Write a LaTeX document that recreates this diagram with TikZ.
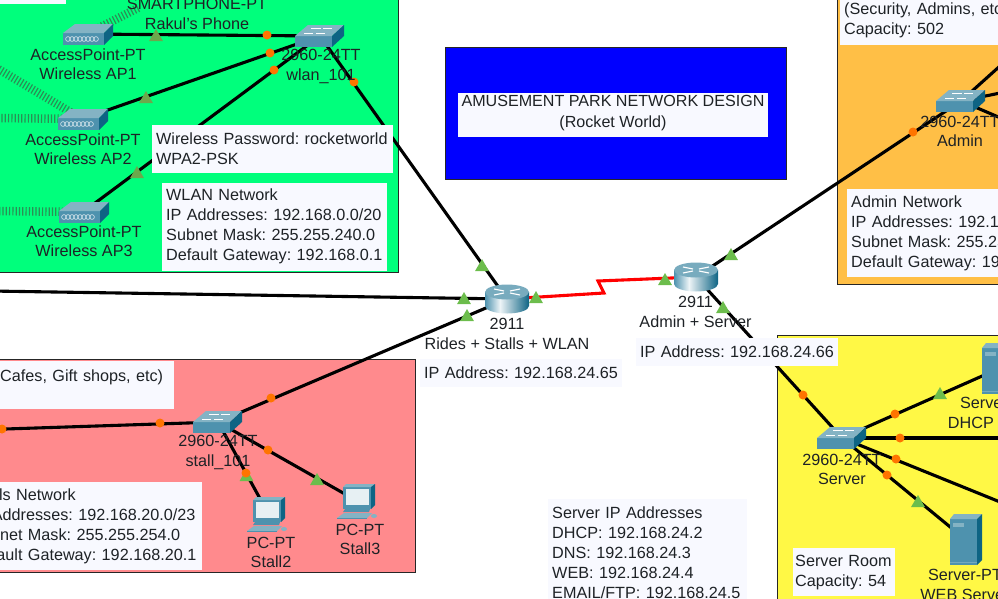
\documentclass[tikz,border=0pt]{standalone}
\usepackage{fontspec}
\setmainfont{Liberation Sans}
\usetikzlibrary{shapes.geometric}
\frenchspacing
\definecolor{wlanzone}{HTML}{00FF7C}
\definecolor{adminzone}{HTML}{FFBF46}
\definecolor{serverzone}{HTML}{FFF845}
\definecolor{stallzone}{HTML}{FF8A8D}
\definecolor{notefill}{HTML}{F8F9FF}
\definecolor{labelink}{HTML}{1E2226}
\definecolor{icontop}{HTML}{84B3C4}
\definecolor{iconfront}{HTML}{4E92AE}
\definecolor{iconside}{HTML}{0E6484}
\definecolor{upcolor}{HTML}{6CBD4C}
\definecolor{upwlan}{HTML}{6CA84C}
\definecolor{downcolor}{HTML}{FF7400}
\definecolor{wifigreen}{HTML}{2B8F55}
\pgfdeclarehorizontalshading{routerbody}{100bp}{color(0bp)=(iconfront); color(25bp)=(iconfront); color(42bp)=(white!90!iconfront); color(75bp)=(iconside); color(100bp)=(iconside)}
\tikzset{
  zone/.style={draw=black!85, line width=0.9pt},
  device/.style={inner sep=0pt, minimum size=0pt},
  devlabel/.style={align=center, text=labelink, inner sep=0pt, font=\fontsize{16.2}{19.3}\selectfont},
  note/.style={fill=notefill, text=labelink, anchor=north west, align=left, inner xsep=4pt, inner ysep=0pt, font=\fontsize{16.2}{20}\selectfont},
  link/.style={line width=3.1pt, black},
  wanlink/.style={line width=3.1pt, red, line join=miter},
  wifi/.style={line width=8.5pt, wifigreen, dash pattern=on 1.2pt off 2.1pt},
  uptri/.style={regular polygon, regular polygon sides=3, fill=#1, inner sep=0pt, minimum size=16pt, yshift=-2pt},
  uptri/.default=upcolor,
  downdot/.style={circle, fill=downcolor, inner sep=0pt, minimum size=9pt},
  switchicon/.pic={
    \fill [iconfront] (-25,0) rectangle (12,11);
    \fill [icontop] (-25,0) -- (-12,-11) -- (24,-11) -- (12,0) -- cycle;
    \fill [iconside] (12,0) -- (24,-11) -- (24,0) -- (12,11) -- cycle;
    \foreach \a/\b/\c in {-9/-8/1,3/-8/12,-16/-3/-7,-4/-3/5}
    \draw [white, line width=0.6pt] (\a,\b) -- (\c,\b);
  },
  routericon/.pic={
    \path [shading=routerbody] (-22,-7) -- (-22,7) arc (180:0:22 and 7.5) -- (22,-7) -- cycle;
    \fill [icontop!90!iconside] (0,-7) ellipse (22 and 7.5);
    \draw [white, line width=1.1pt] (-13,-10) -- (-3,-8) (13,-10) -- (3,-8) (-13,-4) -- (-3,-6) (13,-4) -- (3,-6);
  },
  apicon/.pic={
    \fill [iconfront] (-24,-1) rectangle (17,11);
    \fill [icontop] (-24,-1) -- (-12,-10) -- (26,-10) -- (17,-1) -- cycle;
    \fill [iconside] (17,-1) -- (26,-10) -- (26,2) -- (17,11) -- cycle;
    \foreach \a in {-19,-15,-11,-7,-3,1,5,9}
    \draw [white!80!iconfront, line width=0.6pt] (\a,5) circle (2.4);
  },
  servericon/.pic={
    \fill [iconfront] (-16,-21) rectangle (11,25);
    \fill [icontop] (-16,-21) -- (-12,-26) -- (16,-26) -- (11,-21) -- cycle;
    \fill [iconside] (11,-21) -- (16,-26) -- (16,20) -- (11,25) -- cycle;
    \fill [icontop] (-13,-17) rectangle (-2,-13);
    \fill [icontop!70!iconfront] (-16,22) rectangle (11,23);
  },
  pcicon/.pic={
    \fill [iconfront] (-16,-15) rectangle (12,7);
    \fill [icontop] (-16,-15) -- (-13,-18) -- (16,-18) -- (12,-15) -- cycle;
    \fill [iconside] (12,-15) -- (16,-18) -- (16,3) -- (12,7) -- cycle;
    \fill [white!80!icontop] (-13,-13) rectangle (9.5,3);
    \fill [iconfront] (-14,7) -- (11,7) -- (10,10) -- (-16,10) -- cycle;
    \fill [icontop] (-22,16) -- (-15,11) -- (13,11) -- (8,16) -- cycle;
    \fill [iconfront] (-22,16) rectangle (8,17);
    \fill [icontop] (15,14) ellipse (3 and 2);
  }
}
\begin{document}
\begin{tikzpicture}[x=1pt, y=-1pt, >=stealth]

  \clip (0,0) rectangle (998,598);

  % zones
  \draw [zone, fill=wlanzone] (-10,-10) rectangle (398,272);
  \draw [zone, fill=stallzone] (-10,359) rectangle (415,572);
  \draw [zone, fill=adminzone] (837,-10) rectangle (1010,284);
  \draw [zone, fill=serverzone] (777,335) rectangle (1010,610);
  \node [zone, fill=blue, anchor=north west, minimum width=341pt, minimum height=132pt, inner sep=0pt] (title-box) at (445,47) {};

  % devices
  \foreach \n/\x/\y in {ap1/87/34, ap2/82/119, ap3/83/212, sw-wlan/320/36,
    sw-stall/218/422, sw-admin/961/101, sw-server/842/438,
    rt-rides/507/299, rt-admin/696/277, srv-dhcp/998/369, srv-web/966/540,
    pc-stall2/269/515, pc-stall3/359/502}
  \node [device] (\n) at (\x,\y) {};

  % free ends
  \foreach \n/\x/\y in {sig-phone/140/7, sig-ap2/-5/67, sig-ap2b/-5/118, sig-ap3/-5/211,
    off-rides/-10/291, off-stall/-10/429.5, off-admin1/1010/57, off-admin2/1010/91,
    off-admin3/1010/122, off-server1/1010/438, off-server2/1010/506}
  \coordinate (\n) at (\x,\y);

  % wireless
  \foreach \a/\b in {ap1/sig-phone, ap2/sig-ap2, ap2/sig-ap2b, ap3/sig-ap3}
  \draw [wifi] (\a) -- (\b);

  % cables
  \foreach \a/\b in {ap1/sw-wlan, ap2/sw-wlan, ap3/sw-wlan, sw-wlan/rt-rides,
    off-rides/rt-rides, sw-stall/rt-rides, off-stall/sw-stall,
    sw-stall/pc-stall2, sw-stall/pc-stall3, rt-admin/sw-admin, rt-admin/sw-server,
    sw-admin/off-admin1, sw-admin/off-admin2, sw-admin/off-admin3,
    sw-server/srv-dhcp, sw-server/off-server1, sw-server/off-server2, sw-server/srv-web}
  \draw [link] (\a) -- (\b);

  \draw [wanlink] (rt-rides) -- (604,293) -- (598,281) -- (rt-admin);

  % status
  \foreach \x/\y [count=\i] in {156/35, 146/97, 137/172}
  \node [uptri=upwlan] (up-wlan-\i) at (\x,\y) {};

  \foreach \x/\y [count=\i] in {482/265, 464/298, 467/315, 536/297, 665/279, 731/254,
    723/307, 940/393, 918/501, 246.5/475, 317/479}
  \node [uptri] (up-\i) at (\x,\y) {};

  \foreach \x/\y [count=\i] in {267/35, 270/53, 274/70, 354/82, 271/398, 160/423, 2/429,
    246/473, 268/450, 913/132, 803/395, 895/414, 900/438, 896/459, 887/475}
  \node [downdot] (down-\i) at (\x,\y) {};

  % icons
  \foreach \n in {ap1,ap2,ap3}
  \pic at (\n) {apicon};
  \foreach \n in {sw-wlan,sw-stall,sw-admin,sw-server}
  \pic at (\n) {switchicon};
  \foreach \n in {rt-rides,rt-admin}
  \pic at (\n) {routericon};
  \foreach \n in {srv-dhcp,srv-web}
  \pic at (\n) {servericon};
  \foreach \n in {pc-stall2,pc-stall3}
  \pic at (\n) {pcicon};

  % labels
  \node [devlabel] (label-phone) at (197,14) {SMARTPHONE-PT\\Rakul's Phone};
  \node [devlabel] (label-ap1) at (88,64.5) {AccessPoint-PT\\Wireless AP1};
  \node [devlabel] (label-ap2) at (83,149.5) {AccessPoint-PT\\Wireless AP2};
  \node [devlabel] (label-ap3) at (84,241.5) {AccessPoint-PT\\Wireless AP3};
  \node [devlabel] (label-wlan) at (321,66.5) {2960-24TT\\wlan\_101};
  \node [devlabel] (label-stall) at (218,452.5) {2960-24TT\\stall\_101};
  \node [devlabel] (label-pc2) at (271,552.5) {PC-PT\\Stall2};
  \node [devlabel] (label-pc3) at (360,539.5) {PC-PT\\Stall3};
  \node [devlabel] (label-rides) at (507,334) {2911\\Rides + Stalls + WLAN};
  \node [devlabel] (label-radmin) at (695.5,312) {2911\\Admin + Server};
  \node [devlabel] (label-admin) at (960,131.5) {2960-24TT\\Admin};
  \node [devlabel] (label-server) at (842,469.5) {2960-24TT\\Server};
  \node [devlabel] (label-dhcp) at (997,413) {Server-PT\\DHCP Server};
  \node [devlabel] (label-web) at (965,585) {Server-PT\\WEB Server};

  % notes
  \node [note, inner xsep=0pt, text width=310pt, minimum height=44pt] (note-titlebox) at (458,93) {};
  \node [devlabel, font=\fontsize{16.1}{21}\selectfont] (note-title) at (613,113.5) {AMUSEMENT PARK NETWORK DESIGN\\(Rocket World)};
  \node [note, text width=233pt, minimum height=48pt] (note-pass) at (152,125) {Wireless Password: rocketworld\\WPA2-PSK};
  \node [note, text width=217pt, minimum height=88pt] (note-wlan) at (162,182.5) {WLAN Network\\IP Addresses: 192.168.0.0/20\\Subnet Mask: 255.255.240.0\\Default Gateway: 192.168.0.1};
  \node [note, text width=60pt, minimum height=14pt] (note-corner) at (-2,-10) {};
  \node [note, text width=170pt, minimum height=48pt] (note-cafes) at (-4,361) {Cafes, Gift shops, etc)\\~};
  \node [note, text width=227pt, minimum height=88pt] (note-stalls) at (-33,482) {Stalls Network\\IP Addresses: 192.168.20.0/23\\Subnet Mask: 255.255.254.0\\Default Gateway: 192.168.20.1};
  \node [note, text width=194pt, minimum height=28pt] (note-ip1) at (420,359) {IP Address: 192.168.24.65};
  \node [note, text width=194pt, minimum height=28pt] (note-ip2) at (636,338) {IP Address: 192.168.24.66};
  \node [note, text width=191pt, minimum height=106pt] (note-servers) at (548,499) {Server IP Addresses\\DHCP: 192.168.24.2\\DNS: 192.168.24.3\\WEB: 192.168.24.4\\EMAIL/FTP: 192.168.24.5};
  \node [note, inner xsep=2pt, text width=98pt, minimum height=48pt] (note-room) at (793,548) {Server Room\\Capacity: 54};
  \node [note, text width=200pt, minimum height=50pt] (note-security) at (840,-5) {(Security, Admins, etc)\\Capacity: 502};
  \node [note, text width=200pt, minimum height=88pt] (note-admin) at (847,189) {Admin Network\\IP Addresses: 192.1\\Subnet Mask: 255.25\\Default Gateway: 19};

\end{tikzpicture}
\end{document}
